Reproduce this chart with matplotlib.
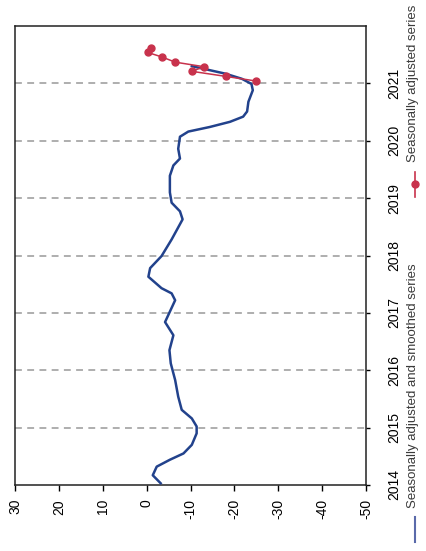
import matplotlib
matplotlib.use("Agg")
import matplotlib.pyplot as plt
from matplotlib.lines import Line2D

plt.rcParams['font.family'] = ['Liberation Sans', 'DejaVu Sans']

# smoothed series (decimal year, value)
smooth_t = [2014.03, 2014.17, 2014.32, 2014.44, 2014.55, 2014.70, 2014.90, 2015.02,
            2015.16, 2015.31, 2015.54, 2015.83, 2016.12, 2016.35, 2016.61, 2016.84,
            2017.22, 2017.34, 2017.43, 2017.63, 2017.78, 2017.99, 2018.28, 2018.63,
            2018.77, 2018.92, 2019.10, 2019.39, 2019.57, 2019.69, 2019.86, 2020.07,
            2020.16, 2020.24, 2020.33, 2020.42, 2020.51, 2020.68, 2020.88, 2020.99,
            2021.08, 2021.17, 2021.30]
smooth_v = [-3.2, -1.4, -2.3, -5.3, -8.4, -10.3, -11.4, -11.4,
            -10.3, -8.0, -7.2, -6.5, -5.5, -5.2, -6.1, -4.2,
            -6.5, -5.7, -3.4, -0.4, -0.8, -3.4, -5.7, -8.2,
            -7.6, -5.7, -5.3, -5.3, -6.1, -7.6, -7.2, -7.6,
            -9.5, -14.4, -19.0, -22.0, -22.9, -23.2, -24.2, -23.9,
            -21.7, -17.9, -10.3]

# seasonally adjusted series (monthly 2021)
sa_t = [2021.04, 2021.12, 2021.21, 2021.29, 2021.37, 2021.46, 2021.54, 2021.62]
sa_v = [-25.0, -18.2, -10.3, -13.1, -6.5, -3.5, -0.2, -1.0]

years = [2014, 2015, 2016, 2017, 2018, 2019, 2020, 2021]
value_ticks = [30, 20, 10, 0, -10, -20, -30, -40, -50]

BLUE = '#22428c'
RED = '#c8324c'

W, H = 426, 551
fig = plt.figure(figsize=(W / 100, H / 100), dpi=100)
ax = fig.add_axes([15 / W, 1 - 485 / H, (366 - 15) / W, (485 - 26) / H])

# chart is drawn turned on its side: values run along x, time along y
for yr in years[1:]:
    ax.axhline(yr, color='#999999', lw=1.1, ls=(0, (4.5, 3.5)), zorder=1)

ax.plot(smooth_v, smooth_t, color=BLUE, lw=1.8, solid_joinstyle='round', zorder=3)
ax.plot(sa_v, sa_t, color=RED, lw=1.1, marker='o', ms=5, zorder=4)

ax.set_xlim(30, -50)
ax.set_ylim(2014, 2022)
ax.set_xticks(value_ticks)
ax.set_xticklabels([str(v) for v in value_ticks], rotation=90, fontsize=10)
ax.set_yticks(years)
ax.set_yticklabels([str(y) for y in years], rotation=90, va='center', fontsize=10)
ax.yaxis.tick_right()
ax.tick_params(axis='x', direction='out', length=4, width=1, pad=6, colors='black')
ax.tick_params(axis='y', direction='out', length=3, width=1, pad=12, colors='black')

for side in ['left', 'right', 'top', 'bottom']:
    ax.spines[side].set_color('#222222')
    ax.spines[side].set_linewidth(1.1)

# legend, turned like the rest of the chart
fig.add_artist(Line2D([415 / W, 415 / W], [1 - 542 / H, 1 - 517 / H],
                      color='#5a6aaa', lw=1.5, transform=fig.transFigure))
fig.text(413 / W, 1 - 508 / H, 'Seasonally adjusted and smoothed series',
         rotation=90, ha='center', va='bottom', fontsize=9.5, color='#3a3a3a')
fig.add_artist(Line2D([415 / W, 415 / W], [1 - 197 / H, 1 - 172 / H],
                      color=RED, lw=1.2, transform=fig.transFigure))
fig.add_artist(Line2D([415 / W], [1 - 184 / H], color=RED, marker='o', ms=5,
                      transform=fig.transFigure))
fig.text(413 / W, 1 - 162 / H, 'Seasonally adjusted series',
         rotation=90, ha='center', va='bottom', fontsize=9.5, color='#3a3a3a')

fig.savefig('out.png', dpi=100)
